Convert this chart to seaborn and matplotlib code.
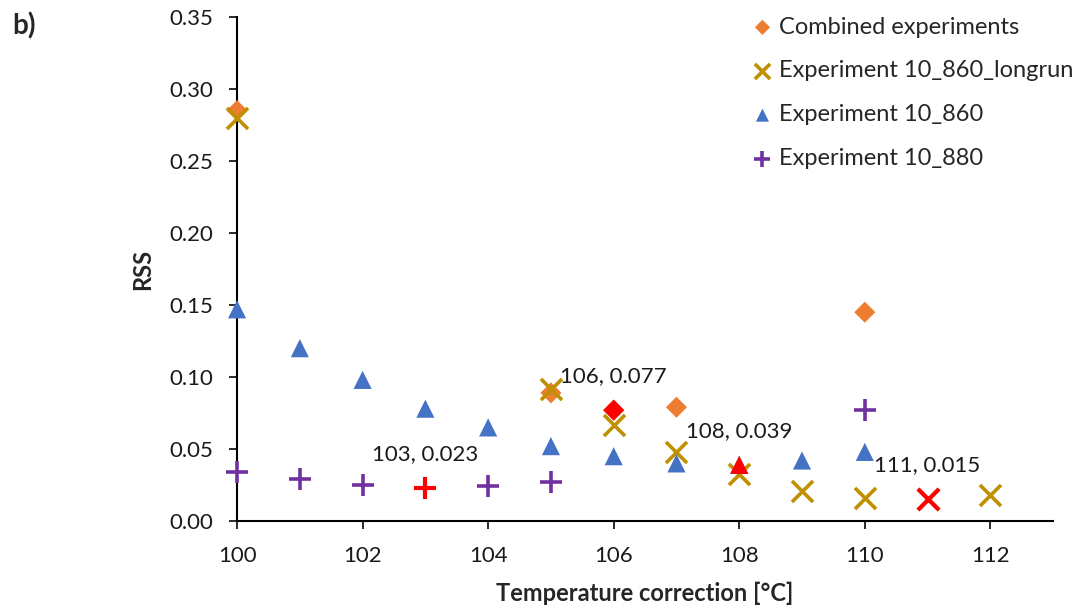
import matplotlib
matplotlib.use("Agg")
import matplotlib.pyplot as plt
import numpy as np
import pandas as pd
import seaborn as sns

# RSS vs temperature correction
combined_t = [100, 105, 106, 107, 110]
combined_rss = [0.285, 0.089, 0.077, 0.079, 0.145]

longrun_t = [100, 105, 106, 107, 108, 109, 110, 111, 112]
longrun_rss = [0.280, 0.092, 0.067, 0.048, 0.033, 0.021, 0.016, 0.015, 0.018]

exp860_t = [100, 101, 102, 103, 104, 105, 106, 107, 108, 109, 110]
exp860_rss = [0.147, 0.120, 0.098, 0.078, 0.065, 0.052, 0.045, 0.040, 0.039, 0.042, 0.048]

exp880_t = [100, 101, 102, 103, 104, 105, 110]
exp880_rss = [0.034, 0.029, 0.025, 0.023, 0.024, 0.027, 0.077]

series = [
    ("Combined experiments", combined_t, combined_rss, "D", "#ED7D31", 115),
    ("Experiment 10_860_longrun", longrun_t, longrun_rss, "x", "#BF9000", 230),
    ("Experiment 10_860", exp860_t, exp860_rss, "^", "#4472C4", 170),
    ("Experiment 10_880", exp880_t, exp880_rss, "+", "#7030A0", 240),
]

FS = 16

sns.set_theme(style="ticks")
plt.rcParams["font.family"] = ["Lato", "DejaVu Sans"]

fig = plt.figure(figsize=(10.79, 6.05), dpi=100)
ax = fig.add_axes([0.2197, 0.1388, 0.7563, 0.8331])

for name, t, rss, mk, col, sz in series:
    df = pd.DataFrame({"t": t, "rss": rss})
    if mk in ("x", "+"):
        sns.scatterplot(data=df, x="t", y="rss", marker=mk, color=col, s=sz,
                        linewidth=2.6, label=name, ax=ax, zorder=3, clip_on=False)
    else:
        sns.scatterplot(data=df, x="t", y="rss", marker=mk, color=col, s=sz,
                        edgecolor="none", label=name, ax=ax, zorder=3, clip_on=False)

# highlight the minimum of each series in red, with a data label above it
for name, t, rss, mk, col, sz in series:
    i = int(np.argmin(rss))
    hl = pd.DataFrame({"t": [t[i]], "rss": [rss[i]]})
    if mk in ("x", "+"):
        sns.scatterplot(data=hl, x="t", y="rss", marker=mk, color="#FF0000", s=sz,
                        linewidth=3.0, ax=ax, zorder=4, legend=False)
    else:
        sns.scatterplot(data=hl, x="t", y="rss", marker=mk, color="#FF0000", s=sz,
                        edgecolor="none", ax=ax, zorder=4, legend=False)
    ax.annotate(f"{t[i]}, {rss[i]:.3f}", xy=(t[i], rss[i]), xytext=(0, 24.5),
                textcoords="offset points", ha="center", va="center",
                fontsize=FS, color="#1a1a1a")

ax.set_xlim(100, 113)
ax.set_ylim(0, 0.35)
ax.set_xticks(np.arange(100, 113, 2))
ax.set_yticks(np.arange(0, 0.351, 0.05))
ax.set_yticklabels([f"{v:.2f}" for v in np.arange(0, 0.351, 0.05)])
ax.tick_params(labelsize=FS, length=6, width=1.3, colors="#1a1a1a")
ax.tick_params(axis="x", pad=12)
ax.tick_params(axis="y", pad=11)
for sp in ("left", "bottom"):
    ax.spines[sp].set_linewidth(1.5)
    ax.spines[sp].set_color("black")
sns.despine(ax=ax)

ax.set_xlabel("Temperature correction [°C]", fontsize=17, fontweight="bold", labelpad=11)
ax.set_ylabel("RSS", fontsize=17, fontweight="bold", labelpad=11)

fig.text(0.011, 0.957, "b)", fontsize=20, fontweight="bold", va="center")

leg = ax.legend(loc="upper left", bbox_to_anchor=(0.676, 1.0), bbox_transform=fig.transFigure,
                frameon=False, fontsize=17, handletextpad=0.0, labelspacing=0.97,
                markerscale=0.72, borderaxespad=0.3, handlelength=1.4)

fig.savefig("out.png", dpi=100)
